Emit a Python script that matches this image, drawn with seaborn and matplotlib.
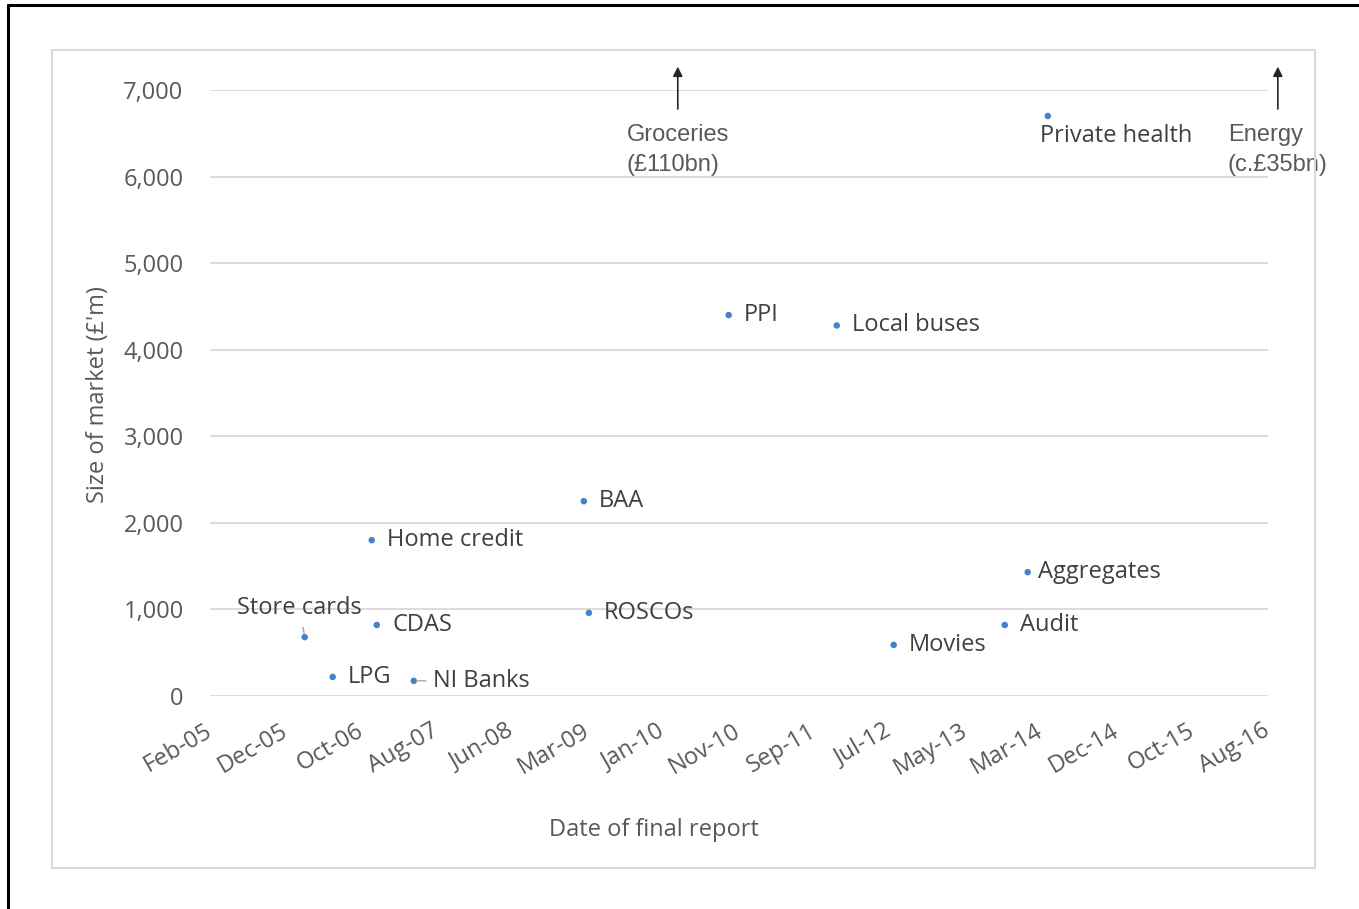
import matplotlib
matplotlib.use("Agg")
import matplotlib.pyplot as plt
from matplotlib.lines import Line2D
from matplotlib.patches import Rectangle
import pandas as pd
import seaborn as sns

# Market investigations: date of final report vs size of market
markets = ["Store cards", "LPG", "CDAS", "Home credit", "NI Banks", "BAA", "ROSCOs",
           "PPI", "Local buses", "Movies", "Audit", "Aggregates", "Private health"]
report_dates = ["2006-03-01", "2006-06-20", "2006-12-12", "2006-11-22", "2007-05-08",
                "2009-03-13", "2009-04-02", "2010-10-09", "2011-12-12", "2012-07-25",
                "2013-10-09", "2014-01-08", "2014-03-29"]
market_size = [680, 220, 820, 1800, 175, 2250, 960, 4400, 4280, 590, 820, 1430, 6700]

# Markets too large to show on the scale
offscale_names = ["Groceries\n(£110bn)", "Energy\n(c.£35bn)"]
offscale_dates = ["2010-03-21", "2016-09-27"]

tick_labels = ["Feb-05", "Dec-05", "Oct-06", "Aug-07", "Jun-08", "Mar-09", "Jan-10",
               "Nov-10", "Sep-11", "Jul-12", "May-13", "Mar-14", "Dec-14", "Oct-15", "Aug-16"]
y_ticks = [0, 1000, 2000, 3000, 4000, 5000, 6000, 7000]

df = pd.DataFrame({"market": markets,
                   "date": pd.to_datetime(report_dates),
                   "size": market_size})

sns.set_theme(style="white")
plt.rcParams["font.family"] = ["Open Sans", "DejaVu Sans"]

FS = 17
W, H = 1359, 909
fig = plt.figure(figsize=(W / 100, H / 100), dpi=100)
ax = fig.add_axes([210 / W, 1 - 696 / H, (1268 - 210) / W, (696 - 90) / H])

# chart-area box and page frame
fig.patches.append(Rectangle((52 / W, 1 - 868 / H), 1263 / W, 818 / H,
                             transform=fig.transFigure, fill=False,
                             edgecolor="#d9d9d9", lw=1.5))
fig.add_artist(Line2D([8 / W, 8 / W], [0, 1 - 5 / H], transform=fig.transFigure,
                      color="black", lw=2.2))
fig.add_artist(Line2D([8 / W, 1], [1 - 5 / H, 1 - 5 / H], transform=fig.transFigure,
                      color="black", lw=2.2))

dot_color = "#4283c9"
sns.scatterplot(data=df, x="date", y="size", ax=ax, color=dot_color, s=22,
                edgecolor="none", legend=False, zorder=3)

# axes
tick_dates = pd.date_range("2005-02-18", periods=len(tick_labels), freq="300D")
ax.set_xlim(tick_dates[0], tick_dates[-1])
ax.set_ylim(0, 7000)
ax.set_xticks(tick_dates)
ax.set_xticklabels(tick_labels, rotation=30, ha="right", va="center",
                   rotation_mode="anchor", fontsize=FS, color="#595959")
ax.set_yticks(y_ticks)
ax.set_yticklabels([f"{v:,}" for v in y_ticks], fontsize=FS, color="#595959")
ax.tick_params(axis="x", length=0, pad=24)
ax.tick_params(axis="y", length=0, pad=19)
ax.grid(axis="y", color="#d9d9d9", lw=1.3)
ax.grid(axis="x", visible=False)
for sp in ax.spines.values():
    sp.set_visible(False)
ax.set_facecolor("none")

ax.set_xlabel("Date of final report", fontsize=FS, color="#595959")
ax.xaxis.set_label_coords((654 - 210) / 1058, (696 - 830) / 606)
ax.xaxis.label.set_va("center")
ax.set_ylabel("Size of market (£'m)", fontsize=FS, color="#595959")
ax.yaxis.set_label_coords((98 - 210) / 1058, (696 - 395) / 606)
ax.yaxis.label.set_va("center")

# data labels (offsets in points from each dot)
label_offsets = {
    "Store cards": (-3.5, 21, "center"),
    "Private health": (-5.8, -14.5, "left"),
    "NI Banks": (14, 0, "left"),
    "Aggregates": (7.5, 0, "left"),
}
leader = {"Store cards", "NI Banks"}
for _, row in df.iterrows():
    dx, dy, ha = label_offsets.get(row["market"], (11, 0, "left"))
    arrow = None
    if row["market"] in leader:
        arrow = dict(arrowstyle="-", color="#a6a6a6", lw=1, shrinkA=3, shrinkB=2)
    ax.annotate(row["market"], xy=(row["date"], row["size"]),
                xytext=(dx, dy), textcoords="offset points",
                ha=ha, va="center", fontsize=FS, color="#404040",
                arrowprops=arrow, zorder=4)

# off-scale markets: arrows pointing up beyond the axis
for name, d in zip(offscale_names, pd.to_datetime(offscale_dates)):
    ax.annotate("", xy=(d, 7270), xytext=(d, 6780),
                arrowprops=dict(arrowstyle="-|>", color="#262626", lw=1.2,
                                mutation_scale=14, shrinkA=0, shrinkB=0),
                annotation_clip=False)
    ax.text(d, 6605, name, ha="center", va="top", multialignment="left",
            fontsize=17, color="#595959", family=["Liberation Sans", "DejaVu Sans"],
            linespacing=1.45, clip_on=False)

fig.savefig("out.png", dpi=100, facecolor="white")
